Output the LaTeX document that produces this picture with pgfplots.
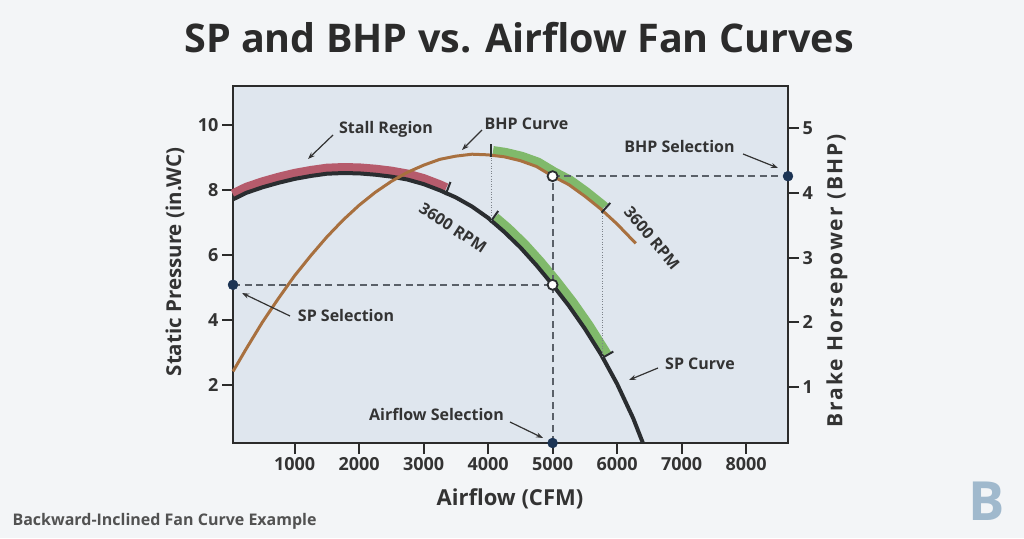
\documentclass[border=0pt]{standalone}
\usepackage{fontspec}
\setmainfont{Open Sans}
\usepackage{pgfplots}
\pgfplotsset{compat=1.18}
\usetikzlibrary{arrows.meta}
\definecolor{bg}{HTML}{F3F5F7}
\definecolor{plotbg}{HTML}{DFE6EE}
\definecolor{spc}{HTML}{2A2D30}
\definecolor{stall}{HTML}{B65B6C}
\definecolor{grn}{HTML}{80B96B}
\definecolor{bhpc}{HTML}{A8703F}
\definecolor{dashc}{HTML}{5A6068}
\definecolor{dotc}{HTML}{7D838A}
\definecolor{navy}{HTML}{1C3454}
\definecolor{txt}{HTML}{333333}
\definecolor{axc}{HTML}{2B2B2B}
\definecolor{logo}{HTML}{A0B9CD}
\newcommand{\fs}[1]{\fontsize{#1}{#1}\selectfont}
\tikzset{
  dsh/.style={dashc, line width=2pt, dash pattern=on 7pt off 4.5pt},
  dtt/.style={dotc, line width=1pt, dash pattern=on 1pt off 1.6pt},
  endtick/.style={spc, line width=2pt},
  arr/.style={-{Stealth[length=7pt,width=5pt]}, line width=1.2pt, txt},
}
\pgfplotsset{
  common/.style={at={(233pt,95pt)}, anchor=south west, scale only axis,
    width=555pt, height=357pt, xmin=45, xmax=8650, clip=false,
    tick align=outside, major tick length=11pt,
    tick style={axc, line width=2pt},
    /pgf/number format/assume math mode=true,
    ticklabel style={font=\bfseries\fs{18}, text=txt}},
}
\begin{document}
\begin{tikzpicture}
\fill[bg] (0pt,0pt) rectangle (1024pt,538pt);
\path[use as bounding box] (0pt,0pt) rectangle (1024pt,538pt);
\begin{axis}[common, ymin=0.22, ymax=11.21,
  axis background/.style={fill=plotbg},
  axis line style={axc, line width=2.2pt},
  xtick={1000,2000,3000,4000,5000,6000,7000,8000},
  xticklabels={1000,2000,3000,4000,5000,6000,7000,8000},
  ytick={2,4,6,8,10}, yticklabels={2,4,6,8,10},
  xtick pos=left, ytick pos=left]
% stall band
\addplot[stall, line width=10pt, yshift=5pt] coordinates {
(45,7.72) (250,7.92) (500,8.09) (750,8.23) (1000,8.35) (1250,8.44) (1500,8.51)
(1750,8.53) (2000,8.52) (2250,8.48) (2500,8.42) (2750,8.33) (3000,8.19)
(3250,8.00) (3350,7.91)};
% green SP band
\addplot[grn, line width=10pt, xshift=3.7pt, yshift=3.3pt] coordinates {
(4050,7.06) (4250,6.72) (4500,6.24) (4750,5.69) (5000,5.09) (5250,4.45)
(5500,3.74) (5750,2.95) (5780,2.85)};
% SP curve
\addplot[spc, line width=4pt] coordinates {
(45,7.72) (250,7.92) (500,8.09) (750,8.23) (1000,8.35) (1250,8.44) (1500,8.51)
(1750,8.53) (2000,8.52) (2250,8.48) (2500,8.42) (2750,8.33) (3000,8.19)
(3250,8.00) (3500,7.78) (3750,7.50) (4000,7.15) (4250,6.72) (4500,6.24)
(4750,5.69) (5000,5.09) (5250,4.45) (5500,3.74) (5750,2.95) (6000,2.04)
(6250,0.98) (6400,0.22)};
\draw[endtick] (axis cs:3350,7.91) ++(249:2pt) -- ++(69:14pt);
\draw[endtick] (axis cs:4050,7.06) ++(235:2pt) -- ++(55:14pt);
\draw[endtick] (axis cs:5780,2.85) ++(210:2pt) -- ++(30:14pt);
% dashed and dotted guides
\draw[dsh] (axis cs:45,5.09) -- (axis cs:5000,5.09);
\draw[dsh] (axis cs:5000,0.22) -- (axis cs:5000,8.42);
\draw[dtt] (axis cs:4050,9.0) -- (axis cs:4050,7.06);
\draw[dtt] (axis cs:5780,7.30) -- (axis cs:5780,2.85);
\addplot[only marks, mark=*, mark size=5pt, mark options={fill=white, draw=spc, line width=1.8pt}] coordinates {(5000,5.09)};
\addplot[only marks, mark=*, mark size=5pt, navy] coordinates {(45,5.09) (5000,0.22)};
\end{axis}
\begin{axis}[common, ymin=0.133, ymax=5.655,
  axis line style={draw=none}, xtick=\empty,
  ytick={1,2,3,4,5}, yticklabels={1,2,3,4,5}, ytick pos=right]
\addplot[grn, line width=9pt, xshift=1.8pt, yshift=4.3pt] coordinates {
(4050,4.59) (4250,4.56) (4500,4.50) (4750,4.41) (5000,4.26) (5250,4.13)
(5500,3.95) (5750,3.75) (5780,3.72)};
\addplot[bhpc, line width=3pt] coordinates {
(45,1.24) (250,1.59) (500,2.00) (750,2.37) (1000,2.72) (1250,3.03) (1500,3.32)
(1750,3.58) (2000,3.81) (2250,4.01) (2500,4.18) (2750,4.32) (3000,4.43)
(3250,4.52) (3500,4.57) (3750,4.60) (4000,4.59) (4250,4.56) (4500,4.50)
(4750,4.41) (5000,4.26) (5250,4.13) (5500,3.95) (5750,3.75) (6000,3.52) (6290,3.22)};
\draw[endtick] (axis cs:4050,4.59) ++(270:2pt) -- ++(90:13pt);
\draw[endtick] (axis cs:5780,3.72) ++(228:2pt) -- ++(48:13pt);
\draw[dsh] (axis cs:5000,4.26) -- (axis cs:8650,4.26);
\addplot[only marks, mark=*, mark size=5pt, mark options={fill=white, draw=spc, line width=1.8pt}] coordinates {(5000,4.26)};
\addplot[only marks, mark=*, mark size=5pt, navy] coordinates {(8650,4.26)};
\end{axis}
% annotations
\begin{scope}[font=\bfseries\fs{16}, text=txt]
\node at (386pt,409pt) {Stall Region};
\draw[arr] (333pt,403pt) -- (308pt,379pt);
\node at (526.5pt,414pt) {BHP Curve};
\draw[arr] (482pt,408pt) -- (462pt,388pt);
\node at (679.5pt,391pt) {BHP Selection};
\draw[arr] (743pt,384pt) -- (778pt,370pt);
\node at (346pt,222pt) {SP Selection};
\draw[arr] (290pt,222pt) -- (242pt,245pt);
\node at (436.5pt,124pt) {Airflow Selection};
\draw[arr] (510pt,116pt) -- (543pt,100pt);
\node at (700pt,174pt) {SP Curve};
\draw[arr] (658pt,170pt) -- (629pt,158pt);
\node[rotate=-33, inner sep=0pt] at (453pt,310pt) {3600 RPM};
\node[rotate=-50, inner sep=0pt] at (652pt,300pt) {3600 RPM};
\end{scope}
% labels
\node[font=\bfseries\fs{20.5}, text=txt, rotate=90] at (175pt,276pt) {Static Pressure (in.WC)};
\node[font=\bfseries\fs{21}\addfontfeature{LetterSpace=9}, text=txt, rotate=90] at (837pt,257pt) {Brake Horsepower (BHP)};
\node[font=\bfseries\fs{22}, text=txt] at (510pt,39pt) {Airflow (CFM)};
\node[font=\bfseries\fs{39.5}, text=axc] at (519pt,500pt) {SP and BHP vs. Airflow Fan Curves};
\node[font=\bfseries\fs{16}, text=txt!85, anchor=west] at (9pt,17pt) {Backward-Inclined Fan Curve Example};
\node[font=\bfseries\fs{54}, text=logo] at (987pt,37pt) {B};
\end{tikzpicture}
\end{document}
